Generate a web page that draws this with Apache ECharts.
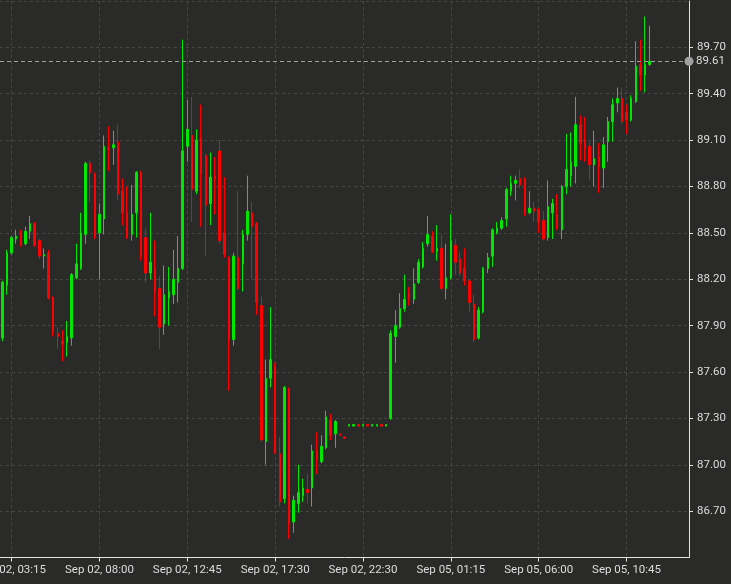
<!DOCTYPE html>
<html>
<head>
<meta charset="utf-8">
<script src="https://cdn.jsdelivr.net/npm/echarts@6/dist/echarts.min.js"></script>
<style>
html,body{margin:0;padding:0;background:#2a2b29;}
#chart{width:731px;height:584px;}
</style>
</head>
<body>
<div id="chart"></div>
<script>
const tickLabels = ["Sep 02, 03:15","Sep 02, 08:00","Sep 02, 12:45","Sep 02, 17:30","Sep 02, 22:30","Sep 05, 01:15","Sep 05, 06:00","Sep 05, 10:45"];
const tickPositions = [2,21,40,59,78,97,116,135];
const categoryCount = 149;
const yTicks = {min: 86.4, max: 90.0, step: 0.3};
const lastPrice = 89.61;

const opens = [
87.82,88.16,88.37,88.46,88.51,88.43,88.51,88.56,88.45,88.35,
88.37,88.08,87.85,87.80,87.79,87.82,88.21,88.27,88.49,88.95,
88.88,88.50,88.59,89.05,89.05,89.09,88.77,88.63,88.49,88.63,
88.89,88.47,88.24,88.27,88.14,87.91,88.08,88.10,88.18,88.27,
89.06,89.13,88.77,89.11,89.00,88.69,88.87,89.03,88.50,88.34,
87.81,88.34,88.30,88.49,88.63,88.56,88.03,87.15,87.56,87.64,
87.07,86.78,87.49,86.63,86.75,86.80,86.84,86.85,87.09,87.02,
87.11,87.29,87.20,87.20,87.18,87.25,87.25,87.26,87.25,87.26,
87.25,87.25,87.26,87.25,87.30,87.83,87.89,88.01,88.11,88.07,
88.18,88.28,88.43,88.48,88.38,88.40,88.14,88.21,88.42,88.33,
88.27,88.19,88.04,87.82,87.99,88.27,88.35,88.50,88.53,88.59,
88.77,88.82,88.85,88.85,88.63,88.66,88.65,88.58,88.47,88.63,
88.62,88.52,88.80,88.87,88.93,89.20,89.10,89.06,88.94,88.99,
88.92,89.09,89.22,89.34,89.37,89.28,89.23,89.35,89.59,89.52,
89.59];
const closes = [
88.18,88.37,88.47,88.48,88.42,88.51,88.56,88.42,88.35,88.36,
88.08,87.86,87.83,87.78,87.83,88.23,88.30,88.50,88.95,88.89,
88.48,88.62,89.06,89.04,89.07,88.75,88.63,88.47,88.62,88.89,
88.35,88.24,88.31,88.12,87.89,88.10,88.12,88.20,88.27,89.03,
89.17,88.78,89.10,88.88,88.68,88.86,88.85,88.45,88.36,87.81,
88.35,88.14,88.49,88.64,88.54,88.05,87.16,87.56,87.68,87.08,
86.76,87.50,86.62,86.77,86.82,86.85,86.82,87.09,87.03,87.12,
87.31,87.19,87.28,87.19,87.17,87.26,87.26,87.25,87.26,87.25,
87.26,87.26,87.25,87.26,87.85,87.90,88.01,88.07,88.08,88.17,
88.31,88.40,88.49,88.38,88.40,88.14,88.21,88.45,88.31,88.24,
88.19,88.05,87.81,88.00,88.27,88.34,88.52,88.53,88.58,88.78,
88.82,88.84,88.81,88.62,88.66,88.64,88.57,88.46,88.67,88.69,
88.53,88.80,88.91,88.96,89.20,89.08,89.04,88.94,88.98,88.93,
89.07,89.22,89.33,89.37,89.22,89.23,89.37,89.58,89.52,89.59,
89.61];
const lows = [
87.80,88.10,88.36,88.43,88.41,88.42,88.46,88.41,88.33,88.27,
88.07,87.83,87.75,87.67,87.70,87.77,88.20,88.26,88.43,88.70,
88.46,88.20,88.49,88.90,88.94,88.71,88.55,88.46,88.45,88.47,
88.32,88.18,88.20,87.96,87.75,87.84,87.90,88.04,88.05,88.26,
88.96,88.57,88.75,88.54,88.35,88.55,88.62,88.43,88.34,87.48,
87.77,88.13,88.12,88.45,88.20,87.97,87.15,87.00,87.50,87.07,
86.73,86.75,86.52,86.56,86.69,86.76,86.75,86.73,86.94,87.01,
87.10,87.16,87.11,87.19,87.17,87.25,87.25,87.25,87.25,87.25,
87.25,87.25,87.25,87.25,87.29,87.66,87.88,87.99,88.03,88.04,
88.17,88.27,88.41,88.37,88.32,88.13,88.07,88.20,88.23,88.22,
88.16,87.99,87.79,87.81,87.98,88.24,88.28,88.49,88.52,88.54,
88.74,88.71,88.79,88.61,88.62,88.57,88.50,88.45,88.45,88.46,
88.52,88.46,88.75,88.80,88.82,88.97,88.96,88.84,88.80,88.76,
88.79,88.96,89.09,89.28,89.21,89.14,89.22,89.34,89.42,89.41,
89.58];
const highs = [
88.19,88.39,88.48,88.52,88.52,88.54,88.61,88.57,88.46,88.40,
88.39,88.09,87.89,87.87,87.93,88.24,88.43,88.63,88.96,88.97,
88.89,88.69,89.13,89.19,89.16,89.20,88.85,88.80,88.81,88.90,
88.90,88.53,88.63,88.45,88.22,88.29,88.28,88.39,88.48,89.75,
89.36,89.38,89.17,89.33,89.01,89.02,88.99,89.10,88.86,88.35,
88.37,88.77,88.52,88.87,88.70,88.57,88.09,87.68,88.02,87.66,
87.18,87.51,87.50,86.80,87.00,86.91,86.94,87.13,87.21,87.19,
87.35,87.33,87.29,87.20,87.18,87.26,87.26,87.26,87.26,87.26,
87.26,87.26,87.26,87.26,87.87,88.00,88.11,88.23,88.15,88.27,
88.33,88.44,88.61,88.51,88.55,88.49,88.43,88.62,88.46,88.38,
88.40,88.20,88.10,88.02,88.28,88.37,88.53,88.57,88.60,88.79,
88.87,88.87,88.91,88.86,88.77,88.70,88.66,88.64,88.84,88.72,
88.75,88.81,89.14,89.15,89.38,89.26,89.25,89.09,89.16,89.08,
89.12,89.25,89.37,89.44,89.44,89.33,89.39,89.74,89.75,89.90,
89.84];

const categories = Array.from({length: categoryCount}, (_, i) => {
  const k = tickPositions.indexOf(i);
  return k >= 0 ? tickLabels[k] : 'b' + i;
});
const candleData = opens.map((o, i) => [o, closes[i], lows[i], highs[i]]);
const isTick = (idx) => tickPositions.indexOf(idx) >= 0;

const UP = '#00e600', DOWN = '#ff0000';
const AXIS = '#e6e6e6', LABEL = '#dcdcdc', GRID = '#464745';
const FONT = 'Roboto';

const chart = echarts.init(document.getElementById('chart'), null, {renderer: 'canvas'});
chart.setOption({
  backgroundColor: '#2a2b29',
  animation: false,
  grid: {left: 0, right: 42, top: 1, bottom: 26.5, containLabel: false, outerBoundsMode: 'none'},
  xAxis: {
    type: 'category',
    data: categories,
    boundaryGap: true,
    axisLine: {show: true, lineStyle: {color: AXIS, width: 1}},
    axisTick: {show: true, alignWithLabel: true, interval: isTick, length: 4, lineStyle: {color: AXIS}},
    axisLabel: {show: true, interval: isTick, color: LABEL, fontFamily: FONT, fontSize: 11.5, margin: 7, hideOverlap: false},
    splitLine: {show: true, interval: isTick, alignWithLabel: true, lineStyle: {color: GRID, type: [3, 3], width: 1}}
  },
  yAxis: {
    type: 'value',
    position: 'right',
    min: yTicks.min,
    max: yTicks.max,
    interval: yTicks.step,
    axisLine: {show: true, lineStyle: {color: AXIS, width: 1}},
    axisTick: {show: true, length: 4, lineStyle: {color: AXIS}},
    axisLabel: {color: LABEL, fontFamily: FONT, fontSize: 11.5, margin: 8, showMinLabel: false, showMaxLabel: false,
      formatter: (v) => v.toFixed(2)},
    splitLine: {show: true, lineStyle: {color: GRID, type: [3, 3], width: 1}}
  },
  series: [{
    type: 'candlestick',
    data: candleData,
    barWidth: 2,
    itemStyle: {color: UP, color0: DOWN, borderColor: UP, borderColor0: DOWN, borderWidth: 1},
    markLine: {
      silent: true,
      symbol: ['none', 'circle'],
      symbolSize: 9,
      itemStyle: {color: '#8d8d8d'},
      lineStyle: {color: '#a0a0a0', type: [4, 3], width: 1},
      label: {show: true, position: 'end', distance: 7, color: LABEL, fontFamily: FONT, fontSize: 11.5,
        formatter: () => lastPrice.toFixed(2)},
      data: [{yAxis: lastPrice}]
    }
  }]
});
</script>
</body>
</html>
